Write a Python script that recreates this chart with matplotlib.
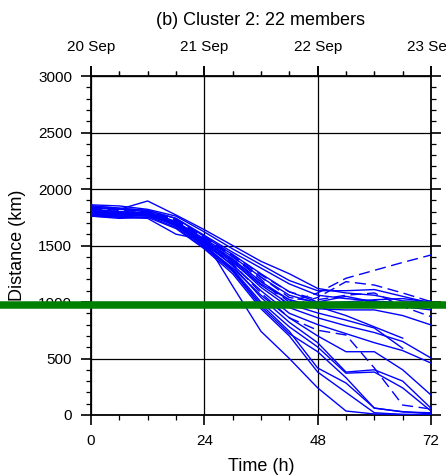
import numpy as np
import matplotlib
matplotlib.use("Agg")
import matplotlib.pyplot as plt
from matplotlib.ticker import MultipleLocator

plt.rcParams['font.family'] = ['Liberation Sans', 'DejaVu Sans']

hours = [0, 6, 12, 18, 24, 30, 36, 42, 48, 54, 60, 66, 72]
nan = np.nan

# distance (km) of each cluster member, every 6 h
solid_members = [
    [1830, 1820, 1894, 1770, 1640, 1500, 1360, 1250, 1120, 1080, 1060, 1010, 1000],
    [1860, 1850, 1820, 1760, 1620, 1470, 1330, 1190, 1100, 1100, 1110, 1050, 990],
    [1850, 1830, 1810, 1740, 1590, 1440, 1300, 1160, 1060, 1030, 1010, 980, 1010],
    [1840, 1820, 1800, 1710, 1560, 1400, 1220, 1060, 990, 1000, 1020, 1030, 1000],
    [1790, 1780, 1800, 1710, 1550, 1380, 1180, 1020, 940, 930, 930, 880, 797],
    [1800, 1790, 1780, 1680, 1520, 1350, 1150, 980, 903, 840, 770, 590, nan],
    [1780, 1770, 1790, 1700, 1540, 1360, 1130, 950, 860, 790, 730, 650, 504],
    [1770, 1760, 1780, 1690, 1510, 1330, 1100, 900, 800, 720, 640, 570, 460],
    [1760, 1750, 1770, 1680, 1500, 1300, 1060, 860, 700, 560, 560, 400, 177],
    [1820, 1800, 1790, 1700, 1530, 1320, 1040, 820, 640, 380, 400, 300, 60],
    [1790, 1770, 1780, 1680, 1490, 1290, 1000, 780, 602, 370, 380, 240, 35],
    [1780, 1760, 1760, 1660, 1480, 1270, 960, 720, 560, 330, 60, 30, 10],
    [1810, 1790, 1780, 1670, 1500, 1280, 980, 740, 416, 283, 62, 27, 20],
    [1760, 1740, 1750, 1650, 1470, 1250, 940, 700, 380, 200, 20, 5, 5],
    [1770, 1750, 1740, 1600, 1550, 1140, 740, 500, 240, 35, 9, 5, 2],
    [1850, 1830, 1810, 1740, 1580, 1420, 1250, 1090, 1000, 1050, 1000, 960, 930],
    [1800, 1780, 1760, 1690, 1530, 1370, 1160, 1020, 960, 880, 780, 680, nan],
]

dashed_members = [
    [1820, 1800, 1790, 1720, 1560, 1400, 1200, 960, 1040, 1180, 1150, 1080, 1003],
    [1810, 1790, 1780, 1700, 1540, 1380, 1180, 1000, 1080, 1210, 1280, 1350, 1416],
    [1840, 1820, 1800, 1730, 1580, 1420, 1240, 1090, 1020, 1060, 1080, 960, 870],
    [1800, 1780, 1770, 1690, 1520, 1340, 1080, 860, 750, 708, 416, 88, 53],
    [1830, 1810, 1800, 1720, 1570, 1410, 1220, 1040, 1000, 990, 1010, 990, 960],
]

date_labels = ['20 Sep', '21 Sep', '22 Sep', '23 Sep']
date_hours = [0, 24, 48, 72]
threshold_km = 973

W, H = 446, 476
fig = plt.figure(figsize=(W / 100, H / 100), dpi=100)
ax = fig.add_axes([91 / W, 1 - 415 / H, 340 / W, 339 / H])

for m in solid_members:
    ax.plot(hours, m, color='#0000ff', lw=1.0, zorder=3)
for m in dashed_members:
    ax.plot(hours, m, color='#0000ff', lw=1.0, ls=(0, (8, 4)), zorder=3)

ax.set_xlim(0, 72)
ax.set_ylim(0, 3000)
ax.xaxis.set_major_locator(MultipleLocator(24))
ax.xaxis.set_minor_locator(MultipleLocator(6))
ax.yaxis.set_major_locator(MultipleLocator(500))
ax.yaxis.set_minor_locator(MultipleLocator(100))
ax.grid(True, which='major', color='black', lw=0.9, zorder=1)

ax.tick_params(which='both', direction='out', top=True, right=True,
               labelsize=11, color='black')
ax.tick_params(axis='x', which='major', pad=7)
ax.tick_params(axis='y', which='major', pad=6.5)
ax.tick_params(which='major', length=7, width=1.2)
ax.tick_params(which='minor', length=3.5, width=0.9)
for s in ax.spines.values():
    s.set_linewidth(1.3)

ax.set_xlabel('Time (h)', fontsize=13, labelpad=7)
ax.set_ylabel('Distance (km)', fontsize=13, labelpad=9)

top = ax.secondary_xaxis('top')
top.set_xticks(date_hours)
top.set_xticklabels(date_labels)
top.xaxis.set_minor_locator(MultipleLocator(6))
top.tick_params(which='both', direction='out', labelsize=11)
top.tick_params(which='major', length=7, width=1.2, pad=8.5)
top.tick_params(which='minor', length=3.5, width=0.9)

ax.set_title('(b) Cluster 2: 22 members', fontsize=13, pad=37)

ax.axhline(threshold_km, xmin=-0.3, xmax=1.1, color='#008000', lw=5.4,
           clip_on=False, zorder=5)

fig.savefig('out.png', dpi=100)
